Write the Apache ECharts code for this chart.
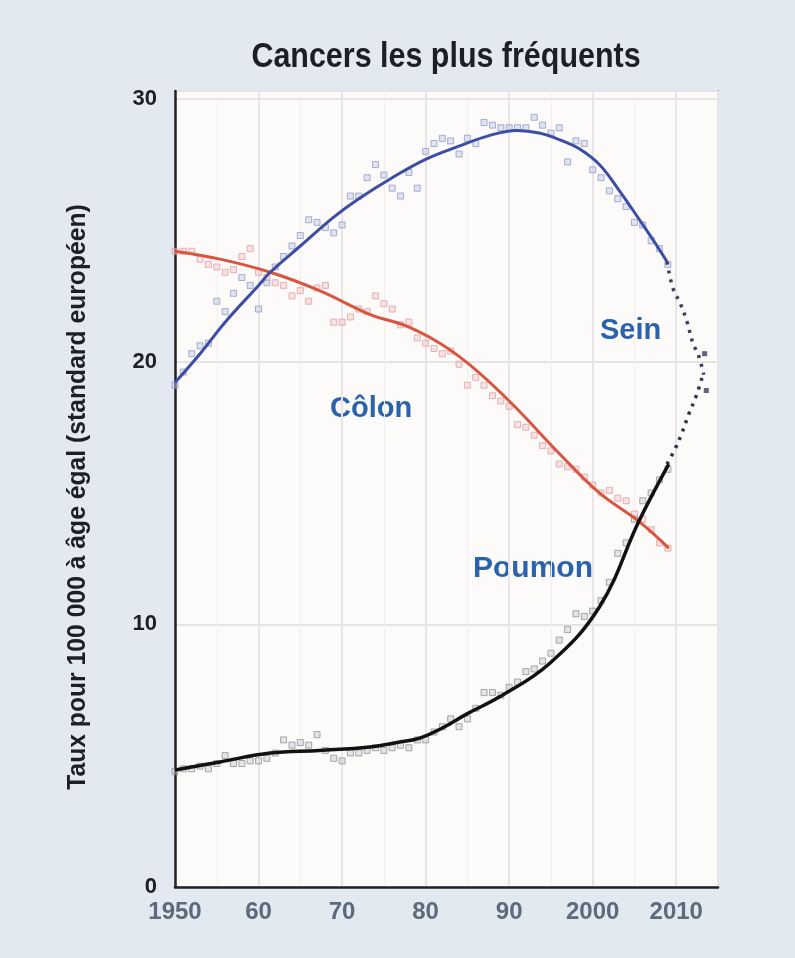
<!DOCTYPE html>
<html>
<head>
<meta charset="utf-8">
<script src="https://cdn.jsdelivr.net/npm/echarts@6/dist/echarts.min.js"></script>
<style>
  html, body { margin: 0; padding: 0; background: #e3e9f0; }
  #chart { width: 795px; height: 958px; }
</style>
</head>
<body>
<div id="chart"></div>
<script>
// Observation years
const years = [1950,1951,1952,1953,1954,1955,1956,1957,1958,1959,
               1960,1961,1962,1963,1964,1965,1966,1967,1968,1969,
               1970,1971,1972,1973,1974,1975,1976,1977,1978,1979,
               1980,1981,1982,1983,1984,1985,1986,1987,1988,1989,
               1990,1991,1992,1993,1994,1995,1996,1997,1998,1999,
               2000,2001,2002,2003,2004,2005,2006,2007,2008,2009];

// Yearly observed rates (per 100 000, age-standardised)
const seinObs = [19.1,19.6,20.3,20.6,20.7,22.3,21.9,22.6,23.2,22.9,
                 22.0,23.0,23.6,24.0,24.4,24.8,25.4,25.3,25.1,24.9,
                 25.2,26.3,26.3,27.0,27.5,27.1,26.6,26.3,27.2,26.6,
                 28.0,28.3,28.5,28.4,27.9,28.5,28.3,29.1,29.0,28.9,
                 28.9,28.9,28.9,29.3,29.0,28.7,28.9,27.6,28.4,28.3,
                 27.3,27.0,26.5,26.2,25.9,25.3,25.2,24.6,24.3,23.7];
const colonObs = [24.2,24.2,24.2,23.9,23.7,23.6,23.4,23.5,24.0,24.3,
                  23.4,23.2,23.0,22.9,22.5,22.7,22.3,22.8,22.9,21.5,
                  21.5,21.7,22.0,21.9,22.5,22.2,22.0,21.4,21.5,20.9,
                  20.7,20.5,20.3,20.4,19.9,19.1,19.4,19.1,18.7,18.5,
                  18.3,17.6,17.5,17.2,16.8,16.6,16.1,16.0,15.9,15.6,
                  15.3,15.0,15.1,14.8,14.7,14.2,14.0,13.6,13.1,12.9];
const poumonObs = [4.4,4.5,4.5,4.6,4.5,4.7,5.0,4.7,4.7,4.8,
                   4.8,4.9,5.1,5.6,5.4,5.5,5.4,5.8,5.2,4.9,
                   4.8,5.1,5.1,5.2,5.3,5.2,5.3,5.4,5.3,5.6,
                   5.6,5.9,6.1,6.4,6.1,6.4,6.8,7.4,7.4,7.3,
                   7.6,7.8,8.2,8.3,8.6,8.9,9.4,9.8,10.4,10.3,
                   10.5,10.9,11.6,12.7,13.1,14.0,14.7,15.0,15.5,15.9];

// Smoothed trends
const seinFitYears = [1950,1953,1956,1960,1961.4,1965,1969,1972,1976,1980,1984,1987.6,1990.9,1993.6,1996.4,1998.4,2000.8,2003.2,2005.6,2007.3,2008.9];
const seinFit      = [19.2,20.3,21.5,22.9,23.4,24.4,25.5,26.2,27.0,27.7,28.2,28.6,28.8,28.7,28.4,28.1,27.5,26.5,25.4,24.6,23.8];
const colonFitYears = [1950,1955.4,1961.4,1967.3,1973.3,1978.1,1984,1990,1996,2000.8,2005.6,2009.1];
const colonFit      = [24.2,23.9,23.4,22.7,21.8,21.3,20.2,18.5,16.5,15.0,13.9,12.9];
const poumonFitYears = [1950,1955.4,1961.4,1967.3,1973.3,1976.9,1979.3,1982,1985,1988.8,1994.8,2000.8,2005.6,2009.1];
const poumonFit      = [4.45,4.76,5.10,5.20,5.33,5.52,5.67,6.05,6.6,7.23,8.5,10.66,13.97,16.1];

// Projections beyond the last observed year
const seinProjYears = [2008.9,2009.6,2010.5,2011.3,2012.0,2012.7,2013.3];
const seinProj      = [23.8,22.8,22.2,21.5,20.7,20.2,19.5];
const poumonProjYears = [2008.9,2009.9,2010.7,2011.5,2012.4,2013.1];
const poumonProj      = [16.1,16.7,17.3,18.0,18.7,19.4];
const estimYears = [2013.4,2013.6];
const estimVals  = [20.3,18.9];

const xTicks = {1950:'1950',1960:'60',1970:'70',1980:'80',1990:'90',2000:'2000',2010:'2010'};
const yTicks = [0,10,20,30];

const pairs = (xs, ys) => xs.map((x, i) => [x, ys[i]]);

const sans = "'Liberation Sans', Arial, sans-serif";
const labelBlue = '#2a62ab';
const ink = '#1d1f26';

const chart = echarts.init(document.getElementById('chart'), null, {renderer: 'canvas'});

const obsSeries = (name, ys, fill, border) => ({
  name, type: 'scatter', data: pairs(years, ys), symbol: 'rect', symbolSize: 6,
  itemStyle: {color: fill, borderColor: border, borderWidth: 1, opacity: 0.75},
  z: 2, silent: true
});
const fitSeries = (name, xs, ys, color, width) => ({
  name, type: 'line', data: pairs(xs, ys), smooth: 0.4, showSymbol: false,
  lineStyle: {color, width}, z: 4, silent: true
});

chart.setOption({
  backgroundColor: '#e3e9f0',
  animation: false,
  grid: {
    left: 175, right: 77, top: 91, bottom: 71, show: true,
    backgroundColor: '#fdfafa', borderColor: '#2b2b2b', borderWidth: 1.5
  },
  xAxis: {
    type: 'value', min: 1950, max: 2015, interval: 10,
    axisLine: {show: true, lineStyle: {color: '#222', width: 2.5}},
    axisTick: {show: false},
    axisLabel: {
      formatter: v => xTicks[v] || '', margin: 13,
      fontFamily: sans, fontWeight: 'bold', fontSize: 24, color: '#5c6a7b'
    },
    splitLine: {show: true, lineStyle: {color: '#e9e4e6', width: 2}},
    minorTick: {show: false, splitNumber: 2},
    minorSplitLine: {show: true, lineStyle: {color: '#f4efef', width: 1}}
  },
  yAxis: {
    type: 'value', min: 0, max: 30.3, interval: 10,
    axisLine: {show: true, lineStyle: {color: '#222', width: 2.5}},
    axisTick: {show: false},
    axisLabel: {
      formatter: v => (yTicks.includes(v) ? String(v) : ''), margin: 18,
      fontFamily: sans, fontWeight: 'bold', fontSize: 22, color: ink
    },
    splitLine: {show: true, lineStyle: {color: '#e6e3e3', width: 2}}
  },
  series: [
    obsSeries('Sein obs', seinObs, 'rgba(190,200,230,0.6)', '#8e98c4'),
    obsSeries('Côlon obs', colonObs, 'rgba(240,200,200,0.6)', '#dc9ea2'),
    obsSeries('Poumon obs', poumonObs, 'rgba(200,200,205,0.6)', '#8d8d93'),
    fitSeries('Côlon', colonFitYears, colonFit, '#d9553f', 3),
    fitSeries('Sein', seinFitYears, seinFit, '#3b4ea3', 3),
    fitSeries('Poumon', poumonFitYears, poumonFit, '#111111', 3.5),
    {
      name: 'Sein proj', type: 'line', data: pairs(seinProjYears, seinProj), smooth: 0.4,
      showSymbol: false, lineStyle: {color: '#3a3f5c', width: 3.5, type: [3, 6]}, z: 3, silent: true
    },
    {
      name: 'Poumon proj', type: 'line', data: pairs(poumonProjYears, poumonProj), smooth: 0.4,
      showSymbol: false, lineStyle: {color: '#2e3246', width: 3.5, type: [3, 6]}, z: 3, silent: true
    },
    {
      name: 'Estimations', type: 'scatter', data: pairs(estimYears, estimVals), symbol: 'rect',
      symbolSize: 5, itemStyle: {color: '#3a3f5c'}, z: 3, silent: true
    }
  ],
  graphic: [
    // Title, drawn in a condensed bold face
    {type: 'text', x: 446, y: 57, scaleX: 0.87, z: 10,
     style: {text: 'Cancers les plus fréquents', fill: ink, font: "bold 35px 'Liberation Sans', Arial, sans-serif",
             textAlign: 'center', textVerticalAlign: 'middle'}},
    // Y axis title, rotated
    {type: 'text', x: 78, y: 497, rotation: Math.PI / 2, scaleX: 0.95, z: 10,
     style: {text: 'Taux pour 100 000 à âge égal (standard européen)', fill: ink,
             font: "bold 26px 'Liberation Sans', Arial, sans-serif", textAlign: 'center', textVerticalAlign: 'middle'}},
    {type: 'text', left: 600, top: 316, style: {text: 'Sein', fill: labelBlue, font: "bold 29px 'Liberation Sans', Arial, sans-serif"}},
    {type: 'text', left: 330, top: 394, style: {text: 'Côlon', fill: labelBlue, font: "bold 29px 'Liberation Sans', Arial, sans-serif"}},
    {type: 'text', left: 473, top: 554, style: {text: 'Poumon', fill: labelBlue, font: "bold 30px 'Liberation Sans', Arial, sans-serif"}}
  ]
});
</script>
</body>
</html>
